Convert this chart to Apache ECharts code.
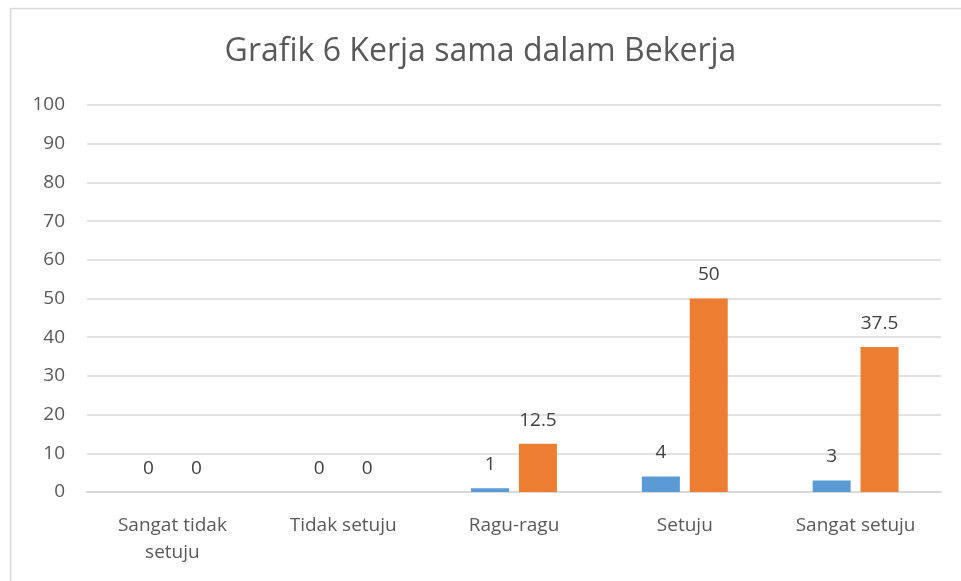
<!DOCTYPE html>
<html>
<head>
<meta charset="utf-8">
<script src="https://cdn.jsdelivr.net/npm/echarts@6/dist/echarts.min.js"></script>
<style>
    html, body { margin: 0; padding: 0; background: #fff; }
    #chart { width: 961px; height: 581px; }
</style>
</head>
<body>
<div id="chart"></div>
<script>
    var categories = ['Sangat tidak\nsetuju', 'Tidak setuju', 'Ragu-ragu', 'Setuju', 'Sangat setuju'];
    var jumlah = [0, 0, 1, 4, 3];
    var persen = [0, 0, 12.5, 50, 37.5];

    var font = "'Open Sans', sans-serif";
    var chart = echarts.init(document.getElementById('chart'));
    var labelStyle = {
        show: true,
        position: 'top',
        distance: 14,
        fontSize: 19,
        color: '#404040',
        fontFamily: font
    };
    chart.setOption({
        animation: false,
        title: {
            text: 'Grafik 6 Kerja sama dalam Bekerja',
            left: 'center',
            top: 31,
            textStyle: { fontSize: 32, fontWeight: 'normal', color: '#595959', fontFamily: font }
        },
        graphic: [{
            type: 'rect',
            shape: { x: 10.5, y: 8.5, width: 1000, height: 1000 },
            style: { fill: 'none', stroke: '#d9d9d9', lineWidth: 1.5 }
        }],
        grid: { left: 87, right: 20, top: 105, bottom: 89 },
        xAxis: {
            type: 'category',
            data: categories,
            axisLine: { lineStyle: { color: '#d9d9d9', width: 2 } },
            axisTick: { show: false },
            axisLabel: { fontSize: 19, color: '#595959', fontFamily: font, margin: 20, lineHeight: 27 }
        },
        yAxis: {
            type: 'value',
            min: 0,
            max: 100,
            interval: 10,
            axisLine: { show: false },
            axisTick: { show: false },
            splitLine: { lineStyle: { color: '#d9d9d9', width: 1.5 } },
            axisLabel: { fontSize: 19, color: '#595959', fontFamily: font, margin: 22 }
        },
        series: [{
            type: 'bar',
            data: jumlah,
            barWidth: 38,
            barGap: '26%',
            itemStyle: { color: '#5b9bd5' },
            label: labelStyle
        }, {
            type: 'bar',
            data: persen,
            barWidth: 38,
            itemStyle: { color: '#ed7d31' },
            label: labelStyle
        }]
    });
</script>
</body>
</html>
